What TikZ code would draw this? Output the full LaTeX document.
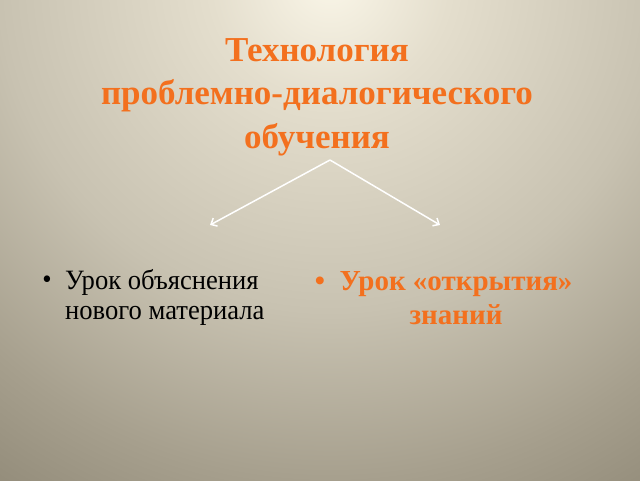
\documentclass[tikz,border=0pt]{standalone}
\usepackage{fontspec}
\setmainfont{Liberation Serif}
\newfontfamily\narrowserif{Liberation Serif}[FakeStretch=0.95]
\usetikzlibrary{arrows.meta}

% slide colours
\definecolor{titleorange}{RGB}{243,112,30}
\definecolor{bgA}{RGB}{250,246,232}
\definecolor{bgB}{RGB}{228,222,205}
\definecolor{bgC}{RGB}{200,194,177}
\definecolor{bgD}{RGB}{166,159,141}
\definecolor{bgE}{RGB}{148,141,123}
\pgfdeclareradialshading{slidebg}{\pgfpoint{0bp}{0bp}}{color(0bp)=(bgA); color(120bp)=(bgB); color(330bp)=(bgC); color(500bp)=(bgD); color(600bp)=(bgE); color(700bp)=(bgE)}

\begin{document}
\begin{tikzpicture}[x=1pt,y=-1pt,
  titletext/.style={inner sep=0pt, align=center, text=titleorange, font=\fontsize{35}{43.5}\selectfont\bfseries},
  bodytext/.style={inner sep=0pt, font=\narrowserif\fontsize{28}{30}\selectfont},
  boldtext/.style={inner sep=0pt, text=titleorange, font=\fontsize{29}{34}\selectfont\bfseries},
  branch/.style={draw=white, line width=1.5pt, -{Straight Barb[length=5pt,width=9pt]}}]

% Slide background
\useasboundingbox (0,0) rectangle (640,480);
\clip (0,0) rectangle (640,480);
\node[inner sep=0pt] (bg) at (330,-20) {\pgfuseshading{slidebg}};

% Title
\node[titletext, anchor=north] (title) at (317,38) {Технология\\проблемно-диалогического\\обучения};

% Branch points
\coordinate (apex) at (330,160);
\coordinate (lefttip) at (210,225);
\coordinate (righttip) at (440,225);

\draw[branch] (apex) -- (lefttip);
\draw[branch] (apex) -- (righttip);

% Left bullet
\node[bodytext, anchor=north west, align=left] (lefttext) at (65,269) {Урок объяснения\\нового материала};
\node[bodytext, anchor=base] (leftdot) at (47,288) {•};

% Right bullet
\node[boldtext, anchor=north, align=center] (righttext) at (456,271) {Урок «открытия»\\знаний};
\node[boldtext, anchor=base] (rightdot) at (320,290) {•};

\end{tikzpicture}
\end{document}
